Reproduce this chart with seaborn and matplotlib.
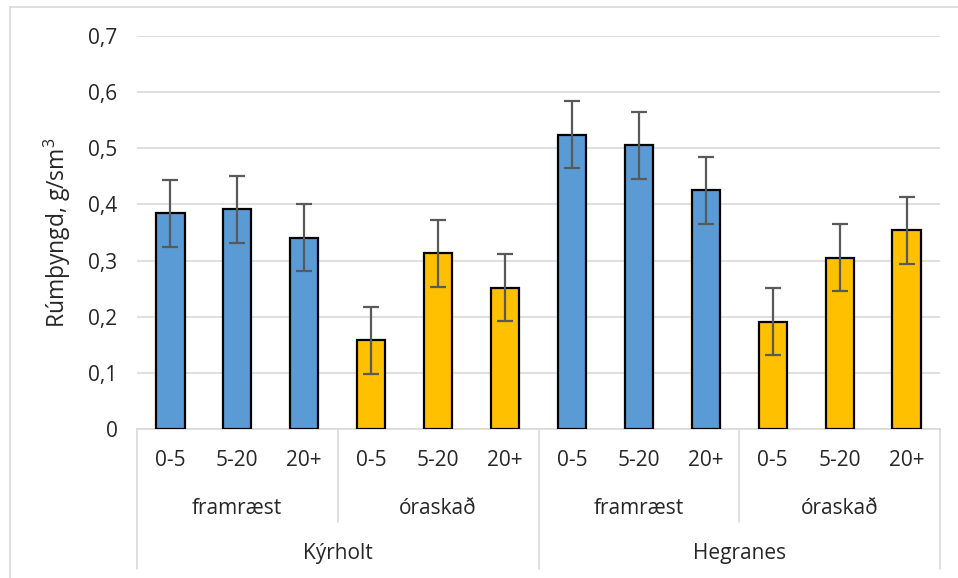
import matplotlib
matplotlib.use("Agg")
import matplotlib.pyplot as plt
import matplotlib.transforms as mtransforms
import seaborn as sns
import pandas as pd
import numpy as np

sites = ["Kýrholt", "Hegranes"]
treatments = ["framræst", "óraskað"]
depths = ["0-5", "5-20", "20+"]
values = [0.384, 0.391, 0.341, 0.158, 0.313, 0.252,
          0.524, 0.505, 0.425, 0.191, 0.305, 0.354]
errors = [0.06] * 12
yticks = [0, 0.1, 0.2, 0.3, 0.4, 0.5, 0.6, 0.7]
ytick_labels = ["0", "0,1", "0,2", "0,3", "0,4", "0,5", "0,6", "0,7"]
ylabel = "Rúmþyngd, g/sm$^3$"
colors = {"framræst": "#5B9BD5", "óraskað": "#FFC000"}

rows = []
i = 0
for s in sites:
    for t in treatments:
        for d in depths:
            rows.append({"key": f"{s}|{t}|{d}", "site": s, "treatment": t,
                         "depth": d, "value": values[i], "err": errors[i]})
            i += 1
df = pd.DataFrame(rows)
order = list(df["key"])

sns.set_style("white")
plt.rcParams["font.family"] = ["Open Sans", "DejaVu Sans"]
plt.rcParams["mathtext.fontset"] = "custom"
plt.rcParams["mathtext.rm"] = "Open Sans"

FS = 15

fig = plt.figure(figsize=(9.58, 5.78), dpi=100)
ax = fig.add_axes([137 / 958, 1 - 429 / 578, (940 - 137) / 958, (429 - 36) / 578])

sns.barplot(data=df, x="key", y="value", hue="treatment", order=order,
            palette=colors, saturation=1, dodge=False, width=0.42,
            edgecolor="black", linewidth=1.6, ax=ax, legend=False, zorder=3)

xpos = np.arange(len(order))
ax.errorbar(xpos, df["value"], yerr=df["err"], fmt="none", ecolor="#595959",
            elinewidth=1.6, capsize=5.5, capthick=1.6, zorder=4)

ax.set_xlim(-0.5, len(order) - 0.5)
ax.set_ylim(0, 0.7)
ax.set_yticks(yticks)
ax.set_yticklabels(ytick_labels, fontsize=FS)
ax.tick_params(axis="y", length=0, pad=14)
ax.grid(axis="y", color="#D9D9D9", linewidth=1.2, zorder=0)
ax.set_axisbelow(True)
for sp in ["top", "right", "left"]:
    ax.spines[sp].set_visible(False)
ax.spines["bottom"].set_color("#D9D9D9")
ax.spines["bottom"].set_linewidth(1.2)
ax.set_xticks([])
ax.set_xlabel("")
ax.set_ylabel(ylabel, fontsize=16.5)
ax.yaxis.set_label_coords((57 - 137) / 803, 0.5)
ax.yaxis.label.set_va("center")

trans = mtransforms.blended_transform_factory(ax.transData, ax.transAxes)
h = 393.0
y_depth = (429 - 461) / h
y_treat = (429 - 509) / h
y_site = (429 - 553) / h
y_inner = (429 - 522) / h
y_outer = (429 - 569) / h

for k, row in df.iterrows():
    ax.text(k, y_depth, row["depth"], transform=trans, ha="center", va="center",
            fontsize=FS, clip_on=False)
for gi, (s, t) in enumerate([(s, t) for s in sites for t in treatments]):
    ax.text(gi * 3 + 1, y_treat, t, transform=trans, ha="center", va="center",
            fontsize=FS, clip_on=False)
for si, s in enumerate(sites):
    ax.text(si * 6 + 2.5, y_site, s, transform=trans, ha="center", va="center",
            fontsize=FS, clip_on=False)

for xb in [-0.5, 5.5, 11.5]:
    ax.plot([xb, xb], [0, y_outer], transform=trans, color="#D9D9D9",
            linewidth=1.2, clip_on=False)
for xb in [2.5, 8.5]:
    ax.plot([xb, xb], [0, y_inner], transform=trans, color="#D9D9D9",
            linewidth=1.2, clip_on=False)

# chart border
fig.add_artist(plt.Line2D([9.5 / 958, 9.5 / 958], [0, 1 - 7 / 578],
                          transform=fig.transFigure, color="#D9D9D9", linewidth=1.2))
fig.add_artist(plt.Line2D([9.5 / 958, 1], [1 - 7 / 578, 1 - 7 / 578],
                          transform=fig.transFigure, color="#D9D9D9", linewidth=1.2))

fig.savefig("out.png", dpi=100)
